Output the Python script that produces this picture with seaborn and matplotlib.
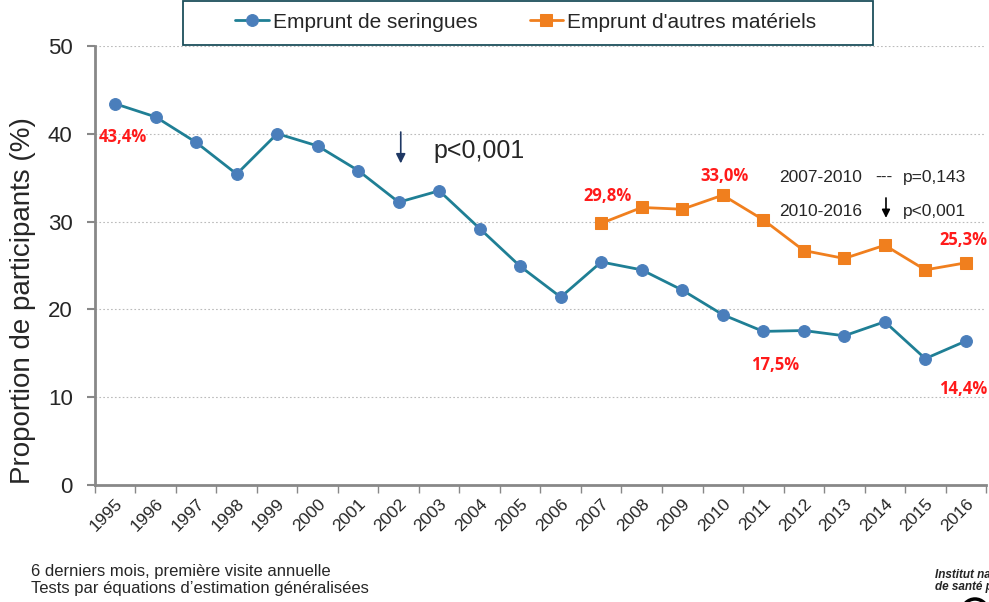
import numpy as np
import pandas as pd
import matplotlib
matplotlib.use("Agg")
import matplotlib.pyplot as plt
from matplotlib.patches import Rectangle, Circle
import seaborn as sns

# Data
years = list(range(1995, 2017))
seringues = [43.4, 41.9, 39.0, 35.4, 40.0, 38.6, 35.8, 32.2, 33.5, 29.2, 24.9,
             21.4, 25.4, 24.5, 22.2, 19.4, 17.5, 17.6, 17.0, 18.6, 14.4, 16.4]
years_autres = list(range(2007, 2017))
autres = [29.8, 31.6, 31.4, 33.0, 30.2, 26.7, 25.8, 27.3, 24.5, 25.3]

labels_ser = {1995: "43,4%", 2011: "17,5%", 2016: "14,4%"}
labels_aut = {2007: "29,8%", 2010: "33,0%", 2016: "25,3%"}

sns.set_theme(style="white")
plt.rcParams["font.family"] = ["Liberation Sans", "DejaVu Sans"]

BLUE_LINE = "#1f7f95"
BLUE_MARK = "#4a7ebb"
ORANGE = "#f07f1e"
RED = "#ff1a1a"

fig = plt.figure(figsize=(9.89, 6.02), dpi=100)
ax = fig.add_axes([0.096, 0.194, 0.901, 0.730])

df_s = pd.DataFrame({"year": years, "val": seringues})
df_a = pd.DataFrame({"year": years_autres, "val": autres})

sns.lineplot(data=df_s, x="year", y="val", ax=ax, color=BLUE_LINE, lw=2,
             marker="o", markersize=8.5, markerfacecolor=BLUE_MARK,
             markeredgecolor=BLUE_MARK, label="Emprunt de seringues", legend=False)
sns.lineplot(data=df_a, x="year", y="val", ax=ax, color=ORANGE, lw=2,
             marker="s", markersize=8, markerfacecolor=ORANGE,
             markeredgecolor=ORANGE, label="Emprunt d'autres matériels", legend=False)

ax.set_xlim(1994.5, 2016.5)
ax.set_ylim(0, 50)
ax.set_yticks([0, 10, 20, 30, 40, 50])
ax.tick_params(axis="y", labelsize=16, length=6, width=1.5, color="#888888",
               direction="out", left=True, pad=10)
ax.yaxis.grid(True, linestyle=(0, (1.5, 2)), color="#bbbbbb", lw=0.8)

# category labels centred, tick marks at boundaries
ax.set_xticks(np.arange(1994.5, 2017.0, 1.0))
ax.set_xticklabels([])
ax.tick_params(axis="x", which="major", length=6, width=1, color="#888888",
               direction="out", bottom=True)
ax.set_xticks(years, minor=True)
ax.set_xticklabels([str(y) for y in years], minor=True, rotation=45,
                   ha="right", va="top", rotation_mode="anchor", fontsize=12.5)
ax.tick_params(axis="x", which="minor", length=0, pad=8)

for side in ["top", "right"]:
    ax.spines[side].set_visible(False)
for side in ["left", "bottom"]:
    ax.spines[side].set_color("#888888")
    ax.spines[side].set_linewidth(2)

ax.set_xlabel("")
ax.set_ylabel("Proportion de participants (%)", fontsize=20)
ax.yaxis.set_label_coords(-0.066, 0.42)

bold = dict(color=RED, fontsize=12, fontweight="bold", family=["Open Sans", "DejaVu Sans"])
ax.text(1995.2, 39.6, labels_ser[1995], ha="center", va="center", **bold)
ax.text(2011.3, 13.7, labels_ser[2011], ha="center", va="center", **bold)
ax.text(2015.94, 11.0, labels_ser[2016], ha="center", va="center", **bold)
ax.text(2007.15, 32.9, labels_aut[2007], ha="center", va="center", **bold)
ax.text(2010.05, 35.2, labels_aut[2010], ha="center", va="center", **bold)
ax.text(2015.94, 27.9, labels_aut[2016], ha="center", va="center", **bold)

# trend annotations
ax.annotate("", xy=(2002.05, 36.3), xytext=(2002.05, 40.5),
            arrowprops=dict(arrowstyle="-|>", color="#1f3864", lw=1.2,
                            mutation_scale=14))
ax.text(2002.85, 38.0, "p<0,001", fontsize=18, ha="left", va="center")

ax.text(2011.4, 35.0, "2007-2010", fontsize=12.5, ha="left", va="center")
ax.text(2013.76, 35.0, "---", fontsize=12.5, ha="left", va="center")
ax.text(2014.46, 35.0, "p=0,143", fontsize=12.5, ha="left", va="center")
ax.text(2011.4, 31.1, "2010-2016", fontsize=12.5, ha="left", va="center")
ax.annotate("", xy=(2014.03, 30.1), xytext=(2014.03, 33.0),
            arrowprops=dict(arrowstyle="-|>", color="black", lw=1.2,
                            mutation_scale=12))
ax.text(2014.46, 31.1, "p<0,001", fontsize=12.5, ha="left", va="center")

# legend: boxed strip along the top
handles, lbls = ax.get_legend_handles_labels()
fig.legend(handles, lbls, loc="center left", ncol=2, fontsize=15,
           bbox_to_anchor=(0.238, 0.963), frameon=False, handlelength=1.6,
           handletextpad=0.2, columnspacing=2.5, borderpad=0, borderaxespad=0)
fig.patches.append(Rectangle((0.185, 0.925), 0.698, 0.073, transform=fig.transFigure,
                             fill=False, edgecolor="#1c4f5c", lw=1.3))

# footer
fig.text(0.031, 0.050, "6 derniers mois, première visite annuelle", fontsize=12,
         va="center")
fig.text(0.031, 0.022, "Tests par équations d’estimation généralisées", fontsize=12,
         va="center")
fig.text(0.945, 0.045, "Institut national", fontsize=8.5, fontweight="bold",
         style="italic", va="center")
fig.text(0.945, 0.025, "de santé publique", fontsize=8.5, fontweight="bold",
         style="italic", va="center")
fig.patches.append(Circle((975, -10), 13, transform=None, fill=False,
                          edgecolor="black", lw=2.5))

fig.savefig("out.png", dpi=100)
